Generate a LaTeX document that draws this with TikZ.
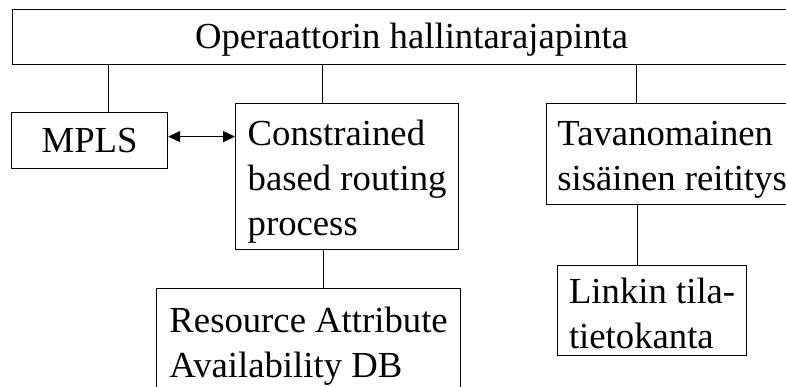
\documentclass[tikz,border=0pt]{standalone}
\usepackage{fontspec}
\setmainfont{Liberation Serif}
\usetikzlibrary{positioning,arrows.meta}
\newcommand{\boxfont}{\fontsize{36.7pt}{45pt}\selectfont}

\begin{document}
\begin{tikzpicture}[
  x=1pt,
  y=-1pt,
  box/.style={
    rectangle,
    draw=black,
    line width=1.2pt,
    fill=white,
    text=black,
    font=\boxfont,
    inner sep=0pt,
    anchor=north west,
    align=left
  },
  link/.style={
    line width=1.2pt,
    draw=black
  },
  arrow/.style={
    {Triangle[length=12pt,width=11pt]}-{Triangle[length=12pt,width=11pt]},
    line width=1.2pt,
    draw=black
  }
]
\useasboundingbox (0,0) rectangle (786,386);
\clip (0,0) rectangle (786,386);

% Operator interface
\node[box, minimum width=798pt, minimum height=55pt, text height=31pt] (oper) at (12,9) {Operaattorin hallintarajapinta};

% Second row
\node[box, minimum width=156pt, minimum height=56pt] (mpls) at (11,112) {MPLS};
\node[box, minimum width=223pt, minimum height=146pt, text height=125pt] (cbr) at (235,103) {Constrained\\based routing\\process};
\node[box, minimum width=251pt, minimum height=101pt, text height=80pt] (tav) at (546,103) {Tavanomainen\\sisäinen reititys};

% Databases
\node[box, minimum width=304pt, minimum height=116pt] (rad) at (156,288) {Resource Attribute\\Availability DB};
\node[box, minimum width=189pt, minimum height=90pt, text height=76pt] (lnk) at (557,265) {Linkin tila-\\tietokanta};

% Lines from the interface
\draw[link] ([xshift=19pt]mpls.north) -- ([xshift=19pt]mpls.north |- oper.south);
\draw[link] ([xshift=-24.5pt]cbr.north) -- ([xshift=-24.5pt]cbr.north |- oper.south);
\draw[link] ([xshift=-35.5pt]tav.north) -- ([xshift=-35.5pt]tav.north |- oper.south);

% Lines to the databases
\draw[link] ([xshift=-23.5pt]cbr.south) -- ([xshift=-23.5pt]cbr.south |- rad.north);
\draw[link] ([xshift=-34.5pt]tav.south) -- ([xshift=-34.5pt]tav.south |- lnk.north);

% MPLS <-> routing
\draw[arrow] ([yshift=4pt]mpls.east) -- ([yshift=4pt]mpls.east -| cbr.west);

\end{tikzpicture}
\end{document}
